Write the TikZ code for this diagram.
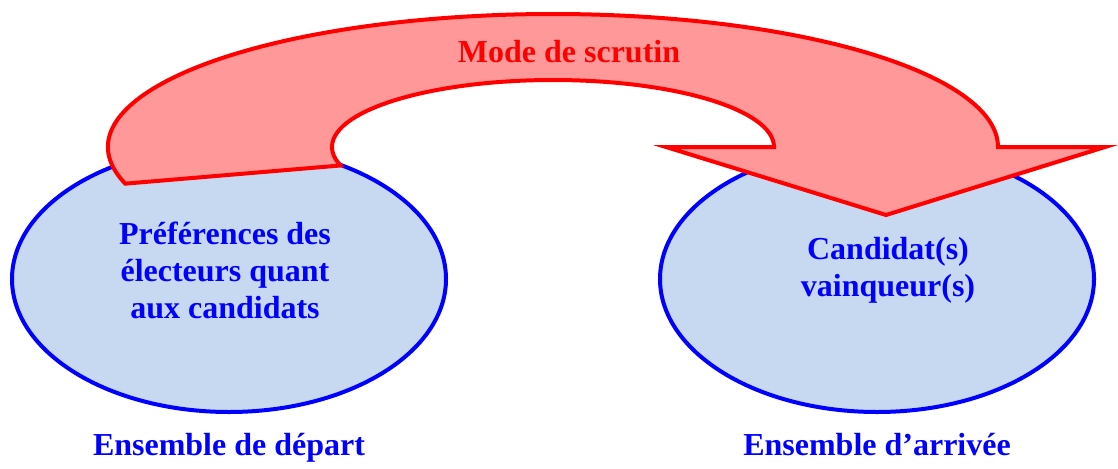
\documentclass[tikz,border=0pt]{standalone}
\usepackage{fontspec}
\setmainfont{Liberation Serif}
\usetikzlibrary{shapes.geometric, positioning}
\definecolor{setfill}{HTML}{C6D9F0}
\definecolor{arrowfill}{HTML}{FF9999}
\tikzstyle{ensemble}=[draw=blue,ellipse,fill=setfill,line width=2pt,
  minimum width=217pt,minimum height=133pt,inner sep=0pt]
\tikzstyle{fleche}=[draw=red,fill=arrowfill,line width=2pt]
\tikzstyle{every node}=[font=\fontsize{16}{18.5}\selectfont\bfseries,text=blue]

\begin{document}
\begin{tikzpicture}[x=0.5pt,y=0.5pt,node distance=6pt]
    \useasboundingbox (0,0) rectangle (1118,468);
    \node[ensemble] (depart) at (229,189) {};
    \node[ensemble] (arrivee) at (877,189) {};
    \coordinate (pivot) at (553,321);
    % fleche courbe
    \draw[fleche] (pivot) ++(196:445 and 133)
      arc[start angle=196,end angle=0,x radius=445,y radius=133]
      -- (1105,321) -- (886,253) -- (666,321) -- (774,321)
      arc[start angle=0,end angle=196,x radius=221,y radius=67] -- cycle;
    \node[text=red,anchor=base] (mode) at (569,406) {Mode de scrutin};
    \node[align=center] (pref) at (225,197.5) {Préférences des\\électeurs quant\\aux candidats};
    \node[align=center] (vainq) at (888,197.3) {Candidat(s)\\vainqueur(s)};
    \node[below=of depart] (dep) {Ensemble de départ};
    \node[below=of arrivee] (arr) {Ensemble d’arrivée};
\end{tikzpicture}
\end{document}
